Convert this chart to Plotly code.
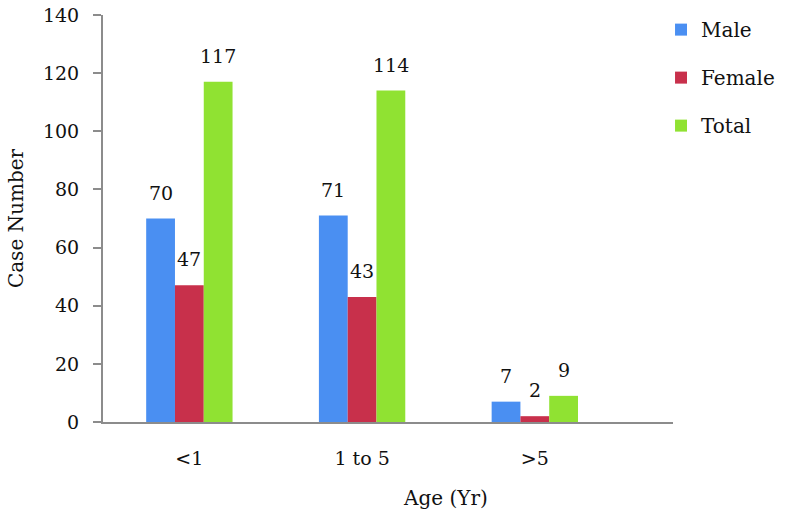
import plotly.graph_objects as go

categories = ["<1", "1 to 5", ">5"]
male = [70, 71, 7]
female = [47, 43, 2]
total = [117, 114, 9]
series_names = ["Male", "Female", "Total"]
colors = ["#4a8ff2", "#c8304b", "#90e232"]

FONT = "DejaVu Serif"
L, R, T, B = 103, 121, 15, 103
W, H = 794, 525
x_range = [-0.5, 2.8]
bargap = 0.5
n_series = 3
plot_w = W - L - R
bar_px = plot_w / (x_range[1] - x_range[0]) * (1 - bargap) / n_series

fig = go.Figure()
annotations = []
for i, (name, vals) in enumerate(zip(series_names, [male, female, total])):
    fig.add_trace(go.Bar(
        x=categories, y=vals, name=name, marker_color=colors[i],
        marker_line_width=0, legendgroup=name,
    ))
    for c, v in zip(categories, vals):
        annotations.append(dict(
            x=c, y=v, xref="x", yref="y", text=str(v), showarrow=False,
            xanchor="center", yanchor="bottom", yshift=13,
            xshift=(i - (n_series - 1) / 2) * bar_px,
            font=dict(family=FONT, size=19, color="#111"),
        ))

annotations.append(dict(text="Age (Yr)", xref="paper", yref="paper", x=0.6, y=-0.187,
                        xanchor="center", yanchor="middle", showarrow=False,
                        font=dict(family=FONT, size=20, color="#111")))

fig.update_layout(
    width=W, height=H,
    paper_bgcolor="white", plot_bgcolor="white",
    barmode="group", bargap=bargap, bargroupgap=0,
    margin=dict(l=L, r=R, t=T, b=B, autoexpand=False),
    font=dict(family=FONT, size=19, color="#111"),
    showlegend=True,
    legend=dict(x=0.979, y=1.012, xanchor="left", yanchor="top",
                traceorder="grouped", tracegroupgap=19,
                font=dict(family=FONT, size=20),
                itemwidth=30),
    xaxis=dict(range=x_range, showline=True, linecolor="#8c8c8c", linewidth=2,
               ticks="", showgrid=False, tickfont=dict(size=19), ticklabelstandoff=18,
               automargin=False),
    yaxis=dict(range=[0, 140], dtick=20, showline=True, linecolor="#8c8c8c", linewidth=2,
               ticks="outside", ticklen=8, tickcolor="#8c8c8c", tickwidth=2,
               showgrid=False, zeroline=False, tickfont=dict(size=19),
               ticklabelstandoff=10, automargin=False,
               title=dict(text="Case Number", font=dict(size=20), standoff=14)),
    annotations=annotations,
)

fig.write_html("out.html", config={"displayModeBar": False},
               post_script="document.body.style.margin='0';")
